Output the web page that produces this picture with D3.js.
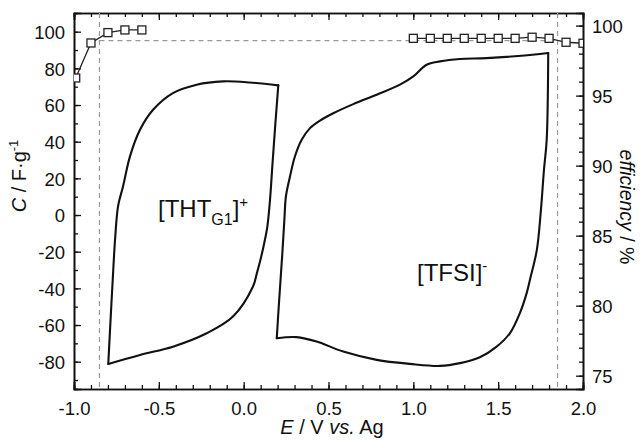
<!DOCTYPE html>
<html>
<head>
<meta charset="utf-8">
<script src="https://cdn.jsdelivr.net/npm/d3@7"></script>
<style>
  body { margin: 0; background: #fff; }
  svg text { font-family: "Liberation Sans", Arial, sans-serif; fill: #111; }
</style>
</head>
<body>
<div id="chart"></div>
<script>
// cyclic voltammogram, negative side ([THT_G1]+), split at the two sharp corners
var cvNegUpE = [-0.798, -0.785, -0.771, -0.757, -0.740, -0.711, -0.670, -0.611, -0.534, -0.417, -0.277, -0.122, 0.037, 0.204];
var cvNegUpC = [-81.2, -58, -34, -12, 5, 15.6, 32.0, 46.5, 57.4, 66.5, 71.1, 72.9, 72.3, 70.7];
var cvNegDownE = [0.204, 0.187, 0.170, 0.155, 0.140, 0.122, 0.100, 0.077, 0.055, -0.063, -0.218, -0.417, -0.611, -0.798];
var cvNegDownC = [70.7, 50, 28, 8, -6, -15, -24, -32, -39.0, -55.4, -64.5, -71.8, -76.3, -81.2];

// cyclic voltammogram, positive side ([TFSI]-), split at the two sharp corners
var cvPosUpE = [0.195, 0.312, 0.430, 0.587, 0.784, 0.980, 1.157, 1.275, 1.392, 1.491, 1.569, 1.628, 1.668, 1.687,
  1.728, 1.752, 1.770, 1.786, 1.795];
var cvPosUpC = [-67.2, -66.6, -69.0, -74.5, -79.0, -81.2, -82.3, -80.8, -77.6, -71.8, -64.5, -53.5, -42.6, -35.4,
  -19.0, 2.8, 24.7, 41.0, 88.4];
var cvPosDownE = [1.795, 1.746, 1.432, 1.275, 1.157, 1.078, 1.000, 0.921, 0.784, 0.646, 0.528,
  0.450, 0.391, 0.342, 0.302, 0.273, 0.249, 0.240, 0.228, 0.208, 0.195];
var cvPosDownC = [88.4, 87.8, 85.6, 85.1, 83.8, 82.0, 75.6, 71.1, 65.6, 60.5, 55.5,
  51.5, 47.4, 41.0, 31.9, 21.0, 10.1, -2.6, -20.8, -48.1, -67.2];

// coulombic efficiency (right axis)
var effNegE = [-0.99, -0.9, -0.8, -0.7, -0.6];
var effNegV = [96.26, 98.76, 99.5, 99.69, 99.69];
var effPosE = [1.0, 1.1, 1.2, 1.3, 1.4, 1.5, 1.6, 1.7, 1.8, 1.9, 2.0];
var effPosV = [99.09, 99.09, 99.09, 99.09, 99.09, 99.09, 99.09, 99.17, 99.09, 98.81, 98.74];

// dashed guides: potential window limits and efficiency level
var windowE = [-0.85, 1.85];
var guideEff = 98.93;

var xTicks = [-1.0, -0.5, 0.0, 0.5, 1.0, 1.5, 2.0];
var yTicks = [-80, -60, -40, -20, 0, 20, 40, 60, 80, 100];
var effTicks = [75, 80, 85, 90, 95, 100];

var chart = {};

document.addEventListener("DOMContentLoaded", function() {
  chartSetup();
  drawAxes();
  drawData();
  drawLabels();
});

function chartSetup() {
  chart.margin = { top: 13, right: 57, bottom: 51, left: 74 };
  chart.w = 640 - chart.margin.left - chart.margin.right;
  chart.h = 440 - chart.margin.top - chart.margin.bottom;

  chart.x = d3.scaleLinear().domain([-1.0, 2.0]).range([0, chart.w]);
  chart.y = d3.scaleLinear().domain([-94.9, 110.2]).range([chart.h, 0]);
  chart.y2 = d3.scaleLinear().domain([74.05, 100.9]).range([chart.h, 0]);

  chart.svg = d3.select("#chart")
    .append("svg")
    .attr("width", 640)
    .attr("height", 440)
    .append("g")
    .attr("transform", "translate(" + chart.margin.left + "," + chart.margin.top + ")");

  chart.svg.append("clipPath")
    .attr("id", "plotClip")
    .append("rect")
    .attr("width", chart.w)
    .attr("height", chart.h);
}

function minorTicks(lo, hi, step) {
  var t = [];
  for (var v = lo; v <= hi + 1e-9; v += step) t.push(+v.toFixed(3));
  return t;
}

function drawAxes() {
  var fmt1 = d3.format(".1f");

  // minor ticks first, then the major ones with labels
  chart.svg.append("g")
    .attr("transform", "translate(0," + chart.h + ")")
    .call(d3.axisBottom(chart.x).tickValues(minorTicks(-1, 2, 0.1)).tickSize(-4).tickFormat(""));
  chart.svg.append("g")
    .attr("transform", "translate(0," + chart.h + ")")
    .call(d3.axisBottom(chart.x).tickValues(xTicks).tickSize(-7).tickPadding(13)
      .tickFormat(function(d) { return fmt1(d).replace("−", "-"); }))
    .attr("class", "xaxis");

  chart.svg.append("g")
    .call(d3.axisTop(chart.x).tickValues(minorTicks(-1, 2, 0.1)).tickSize(-4).tickFormat(""));
  chart.svg.append("g")
    .call(d3.axisTop(chart.x).tickValues(xTicks).tickSize(-7).tickFormat(""));

  chart.svg.append("g")
    .call(d3.axisLeft(chart.y).tickValues(minorTicks(-90, 100, 10)).tickSize(-4).tickFormat(""));
  chart.svg.append("g")
    .call(d3.axisLeft(chart.y).tickValues(yTicks).tickSize(-7).tickPadding(9)
      .tickFormat(function(d) { return String(d); }))
    .attr("class", "yaxis");

  chart.svg.append("g")
    .attr("transform", "translate(" + chart.w + ",0)")
    .call(d3.axisRight(chart.y2).tickValues(minorTicks(75, 100, 1)).tickSize(-4).tickFormat(""));
  chart.svg.append("g")
    .attr("transform", "translate(" + chart.w + ",0)")
    .call(d3.axisRight(chart.y2).tickValues(effTicks).tickSize(-7).tickPadding(9))
    .attr("class", "y2axis");

  chart.svg.selectAll(".domain").style("stroke", "#111").style("stroke-width", 1.6);
  chart.svg.selectAll(".tick line").style("stroke", "#111").style("stroke-width", 1.3);
  chart.svg.selectAll(".tick text")
    .style("font-size", "18.5px")
    .style("font-family", "Liberation Sans, Arial, sans-serif")
    .style("fill", "#111");
  chart.svg.selectAll(".yaxis .tick text, .y2axis .tick text").attr("dy", "0.36em");
}

function drawData() {
  var plot = chart.svg.append("g").attr("clip-path", "url(#plotClip)");

  // dashed guides
  windowE.forEach(function(e) {
    plot.append("line")
      .attr("x1", chart.x(e)).attr("x2", chart.x(e))
      .attr("y1", 0).attr("y2", chart.h)
      .style("stroke", "#999").style("stroke-width", 1.2).style("stroke-dasharray", "5,4");
  });
  plot.append("line")
    .attr("x1", chart.x(windowE[0])).attr("x2", chart.x(windowE[1]))
    .attr("y1", chart.y2(guideEff)).attr("y2", chart.y2(guideEff))
    .style("stroke", "#999").style("stroke-width", 1.2).style("stroke-dasharray", "5,4");

  var cvLine = d3.line()
    .x(function(d) { return chart.x(d[0]); })
    .y(function(d) { return chart.y(d[1]); })
    .curve(d3.curveCatmullRom.alpha(0.5));

  [[cvNegUpE, cvNegUpC], [cvNegDownE, cvNegDownC], [cvPosUpE, cvPosUpC], [cvPosDownE, cvPosDownC]].forEach(function(s) {
    plot.append("path")
      .datum(d3.zip(s[0], s[1]))
      .attr("d", cvLine)
      .style("fill", "none")
      .style("stroke", "#111")
      .style("stroke-width", 2.1)
      .style("stroke-linecap", "round");
  });

  var effLine = d3.line()
    .x(function(d) { return chart.x(d[0]); })
    .y(function(d) { return chart.y2(d[1]); });

  [[effNegE, effNegV], [effPosE, effPosV]].forEach(function(s) {
    var pts = d3.zip(s[0], s[1]);
    plot.append("path")
      .datum(pts)
      .attr("d", effLine)
      .style("fill", "none")
      .style("stroke", "#222")
      .style("stroke-width", 1.3);
    plot.selectAll(null)
      .data(pts)
      .enter().append("rect")
      .attr("x", function(d) { return chart.x(d[0]) - 4; })
      .attr("y", function(d) { return chart.y2(d[1]) - 4; })
      .attr("width", 8)
      .attr("height", 8)
      .style("fill", "#fff")
      .style("stroke", "#222")
      .style("stroke-width", 1.3);
  });
}

function drawLabels() {
  var svg = d3.select("#chart svg");

  // x axis title
  var xt = svg.append("text")
    .attr("x", 332).attr("y", 434)
    .attr("text-anchor", "middle")
    .style("font-size", "20px");
  xt.append("tspan").style("font-style", "italic").text("E");
  xt.append("tspan").text(" / V ");
  xt.append("tspan").style("font-style", "italic").text("vs.");
  xt.append("tspan").text(" Ag");

  // left axis title
  var yt = svg.append("text")
    .attr("transform", "translate(26,176) rotate(-90)")
    .attr("text-anchor", "middle")
    .style("font-size", "20px");
  yt.append("tspan").style("font-style", "italic").text("C");
  yt.append("tspan").text(" / F·g");
  yt.append("tspan").attr("dy", -8).style("font-size", "13px").text("-1");

  // right axis title
  svg.append("text")
    .attr("transform", "translate(620,207) rotate(90)")
    .attr("text-anchor", "middle")
    .style("font-size", "19.5px")
    .style("font-style", "italic")
    .html("efficiency<tspan style='font-style:normal'> / %</tspan>");

  // ion labels
  var l1 = chart.svg.append("text")
    .attr("x", 158 - chart.margin.left).attr("y", 217 - chart.margin.top)
    .style("font-size", "24px");
  l1.append("tspan").text("[THT");
  l1.append("tspan").attr("dy", 8).style("font-size", "16px").text("G1");
  l1.append("tspan").attr("dy", -8).text("]");
  l1.append("tspan").attr("dy", -10).style("font-size", "15px").text("+");

  var l2 = chart.svg.append("text")
    .attr("x", 417 - chart.margin.left).attr("y", 281 - chart.margin.top)
    .style("font-size", "24px");
  l2.append("tspan").text("[TFSI]");
  l2.append("tspan").attr("dy", -10).style("font-size", "15px").text("-");
}
</script>
</body>
</html>
